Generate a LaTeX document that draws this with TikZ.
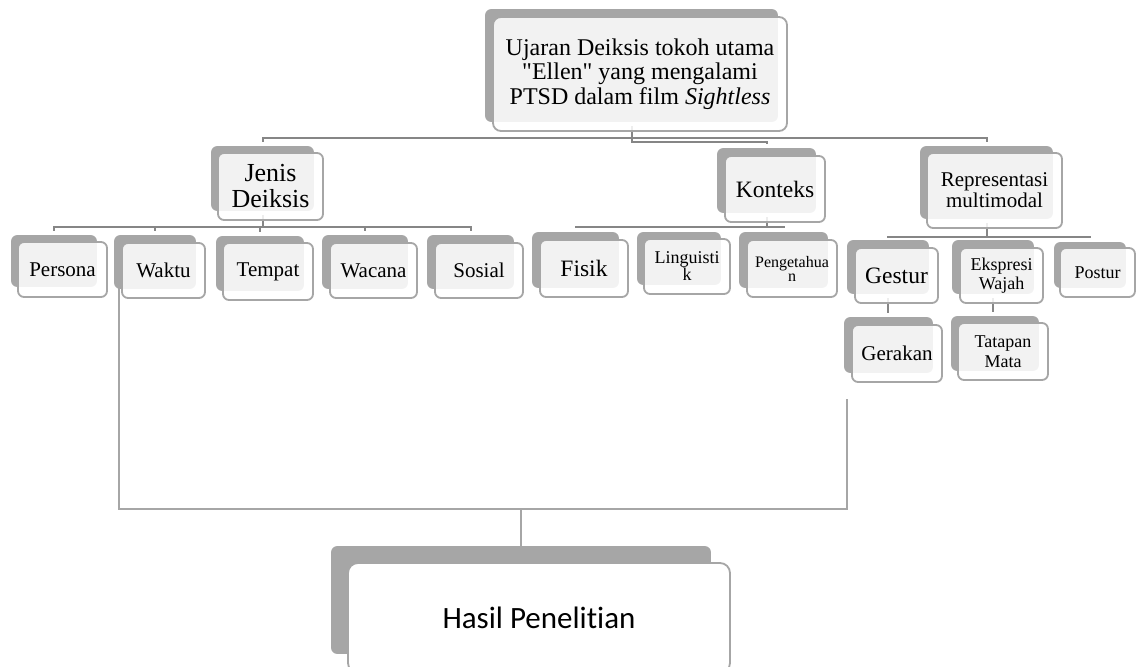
\documentclass[tikz,border=0pt]{standalone}
\usepackage{fontspec}
\setmainfont{Liberation Serif}
\newfontfamily\hasilfont{Carlito}[Ligatures=NoCommon]
\definecolor{BoxGray}{RGB}{166,166,166}
\definecolor{LinkGray}{RGB}{134,134,134}
\usetikzlibrary{backgrounds,fit,calc}

\begin{document}
\begin{tikzpicture}[x=1pt, y=-1pt,
      every node/.style={align=center},
      card/.style={draw=BoxGray, line width=1.8pt, rounded corners=6pt, fill=white,
                   fill opacity=0.86, text opacity=1, inner sep=1pt},
      shade/.style={fill=BoxGray, rounded corners=6pt, inner sep=0pt},
      link/.style={draw=LinkGray, line width=2pt, shorten >=4pt, shorten <=4pt},
      bracket/.style={draw=BoxGray, line width=1.6pt},
      ftiny/.style={font=\fontsize{16}{14}\selectfont},
      fsmall/.style={font=\fontsize{18}{19.5}\selectfont},
      fmid/.style={font=\fontsize{21}{21}\selectfont},
      flarge/.style={font=\fontsize{23.5}{24}\selectfont},
      fhuge/.style={font=\fontsize{24}{24.5}\selectfont}
  ]
    \useasboundingbox (0,0) rectangle (1139,666);
    % level 1
    \node[card, rounded corners=8pt, fhuge, minimum width=294pt, minimum height=114pt] (top) at (640,74)
      {Ujaran Deiksis tokoh utama\\\textquotedbl Ellen\textquotedbl{} yang mengalami\\PTSD dalam film \textit{Sightless}};
    % level 2
    \node[card, font=\fontsize{26}{26}\selectfont, minimum width=105pt, minimum height=67pt] (jenis) at (270.5,186.5) {Jenis\\Deiksis};
    \node[card, flarge, minimum width=100pt, minimum height=66pt] (konteks) at (775,189) {Konteks};
    \node[card, fmid, minimum width=135pt, minimum height=75pt] (repr) at (994.5,190.5) {Representasi\\multimodal};
    % level 3
    \node[card, fmid, minimum width=89pt, minimum height=55pt] (persona) at (62.5,269.5) {Persona};
    \node[card, fmid, minimum width=83pt, minimum height=55pt] (waktu) at (163.5,270.5) {Waktu};
    \node[card, fmid, minimum width=90pt, minimum height=57pt] (tempat) at (268,271.5) {Tempat};
    \node[card, fmid, minimum width=87pt, minimum height=55pt] (wacana) at (373.5,270.5) {Wacana};
    \node[card, fmid, minimum width=88pt, minimum height=55pt] (sosial) at (479,270.5) {Sosial};
    \node[card, flarge, minimum width=88pt, minimum height=57pt] (fisik) at (584,268.5) {Fisik};
    \node[card, font=\fontsize{18}{17}\selectfont, minimum width=86pt, minimum height=55pt] (linguistik) at (687,266.5) {Linguisti\\k};
    \node[card, ftiny, minimum width=90pt, minimum height=57pt] (pengetahuan) at (792,268.5) {Pengetahua\\n};
    \node[card, flarge, minimum width=83pt, minimum height=55pt] (gestur) at (896.5,275.5) {Gestur};
    \node[card, fsmall, minimum width=83pt, minimum height=55pt] (ekspresi) at (1001.5,275.5) {Ekspresi\\Wajah};
    \node[card, fsmall, minimum width=75pt, minimum height=49pt] (postur) at (1097.5,272.5) {Postur};
    % level 4
    \node[card, fmid, minimum width=90pt, minimum height=57pt] (gerakan) at (897,353.5) {Gerakan};
    \node[card, fsmall, minimum width=90pt, minimum height=57pt] (tatapan) at (1003,351.5) {Tatapan\\Mata};
    % result
    \node[card, fill opacity=1, rounded corners=10pt, font={\hasilfont\fontsize{31}{36}\selectfont},
          minimum width=382pt, minimum height=110pt] (hasil) at (539,618) {Hasil Penelitian};

    \coordinate (bar1) at (0,138);
    \coordinate (bar2) at (0,141.5);
    \coordinate (bar3) at (0,227);
    \coordinate (bar4) at (0,237);
    \coordinate (bar5) at (0,509);
    \coordinate (brL) at (119,280);
    \coordinate (brR) at (847,399);

    \begin{scope}[on background layer]
      \fill[white] (0,0) rectangle (1139,666);
      \foreach \n/\a/\b in {top/7/10, jenis/6/10, konteks/7/10, repr/6/10, persona/6/11,
                            waktu/7/10, tempat/6/10, wacana/7/10, sosial/7/10, fisik/7/10,
                            linguistik/6/10, pengetahuan/7/10, gestur/7/10, ekspresi/7/10,
                            postur/5/10, gerakan/7/10, tatapan/6/10, hasil/16/20} {
        \node[shade, fit={([shift={(-\a,-\a)}]\n.north west) ([shift={(-\b,-\b)}]\n.south east)}] (\n-s) {};
      }
      \draw[link] (top-s.south) |- (konteks-s.north |- bar2) -- (konteks-s.north);
      \draw[link] (jenis-s.north) |- (repr-s.north |- bar1) -- (repr-s.north);
      \foreach \c in {persona,waktu,tempat,wacana,sosial} {
        \draw[link] (jenis-s.south) |- (\c-s.north |- bar3) -- (\c-s.north);
      }
      \foreach \c in {fisik,linguistik,pengetahuan} {
        \draw[link] (konteks-s.south) |- (\c-s.north |- bar3) -- (\c-s.north);
      }
      \foreach \c in {gestur,ekspresi,postur} {
        \draw[link] (repr-s.south) |- (\c-s.north |- bar4) -- (\c-s.north);
      }
      \draw[link] (gestur-s.south) -- (gestur-s.south |- gerakan-s.north);
      \draw[link] (ekspresi-s.south) -- (ekspresi-s.south |- tatapan-s.north);
      \draw[bracket] (brL) |- (bar5 -| brR) -- (brR);
      \draw[bracket] (hasil-s.north |- bar5) -- (hasil-s.north);
    \end{scope}
  \end{tikzpicture}
\end{document}
